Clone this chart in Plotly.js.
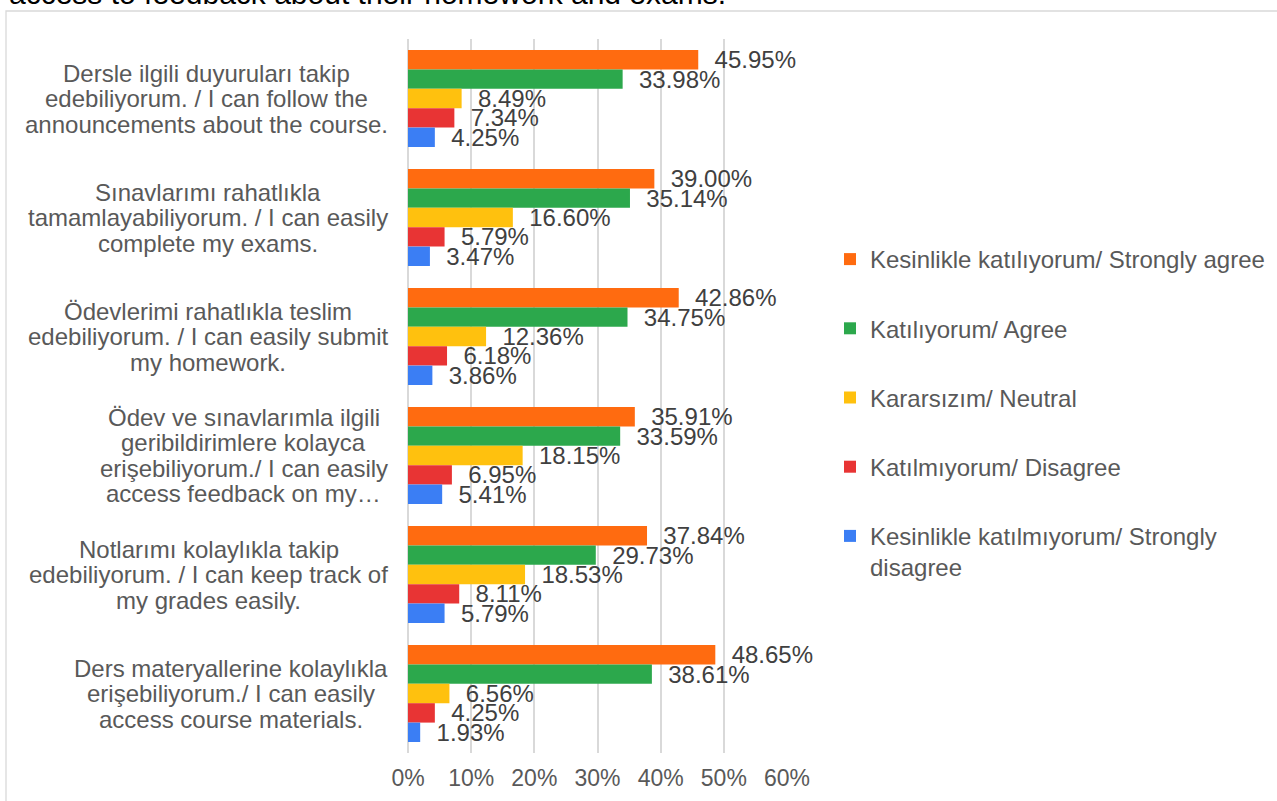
<!DOCTYPE html>
<html>
<head>
<meta charset="utf-8">
<script src="https://cdn.plot.ly/plotly-3.0.1.min.js"></script>
<style>
  html, body { margin: 0; padding: 0; background: #ffffff; }
  #chart { width: 1277px; height: 801px; }
</style>
</head>
<body>
<div id="chart"></div>
<script>
// ---- data ----
const categories = [
  "Dersle ilgili duyuruları takip<br>edebiliyorum. / I can follow the<br>announcements about the course.",
  "Sınavlarımı rahatlıkla<br>tamamlayabiliyorum. / I can easily<br>complete my exams.",
  "Ödevlerimi rahatlıkla teslim<br>edebiliyorum. / I can easily submit<br>my homework.",
  "Ödev ve sınavlarımla ilgili<br>geribildirimlere kolayca<br>erişebiliyorum./ I can easily<br>access feedback on my…",
  "Notlarımı kolaylıkla takip<br>edebiliyorum. / I can keep track of<br>my grades easily.",
  "Ders materyallerine kolaylıkla<br>erişebiliyorum./ I can easily<br>access course materials."
];
const seriesNames = [
  "Kesinlikle katılıyorum/ Strongly agree",
  "Katılıyorum/ Agree",
  "Kararsızım/ Neutral",
  "Katılmıyorum/ Disagree",
  "Kesinlikle katılmıyorum/ Strongly<br>disagree"
];
const stronglyAgree    = [45.95, 39.00, 42.86, 35.91, 37.84, 48.65];
const agree            = [33.98, 35.14, 34.75, 33.59, 29.73, 38.61];
const neutral          = [8.49, 16.60, 12.36, 18.15, 18.53, 6.56];
const disagree         = [7.34, 5.79, 6.18, 6.95, 8.11, 4.25];
const stronglyDisagree = [4.25, 3.47, 3.86, 5.41, 5.79, 1.93];
const tickValues = [0, 10, 20, 30, 40, 50, 60];
const tickLabels = ["0%", "10%", "20%", "30%", "40%", "50%", "60%"];
const topText = "access to feedback about their homework and exams.";

// ---- styles ----
const colors = ["#FF6B10", "#2CA84C", "#FFC10E", "#E83434", "#3B7EF4"];
const FONT = "Liberation Sans, Arial, sans-serif";
const W = 1277, H = 801;
const M = { l: 408, r: 490, t: 39, b: 48 };
const PW = W - M.l - M.r, PH = H - M.t - M.b;
const px2x = p => (p - M.l) / PW;
const px2y = p => (H - M.b - p) / PH;

const allSeries = [stronglyAgree, agree, neutral, disagree, stronglyDisagree];
const traces = allSeries.map((vals, i) => ({
  type: "bar",
  orientation: "h",
  name: seriesNames[i],
  legendgroup: "g" + i,
  y: categories,
  x: vals,
  marker: { color: colors[i] },
  texttemplate: "\u00a0\u00a0%{x:.2f}%",
  textposition: "outside",
  constraintext: "none",
  cliponaxis: false,
  textfont: { family: FONT, size: 24, color: "#404040" },
  hoverinfo: "skip"
}));

// category labels: centered lines, block right-aligned
const cv = document.createElement("canvas").getContext("2d");
cv.font = '24px "Liberation Sans"';
const LABEL_RIGHT = 388, LINE_STEP = 25.5;
const annotations = [];
categories.forEach(cat => {
  const lines = cat.split("<br>");
  const maxW = Math.max(...lines.map(s => cv.measureText(s).width));
  const cx = px2x(LABEL_RIGHT - maxW / 2);
  const n = lines.length;
  lines.forEach((ln, i) => {
    annotations.push({
      xref: "paper", yref: "y", x: cx, y: cat,
      xanchor: "center", yanchor: "middle",
      yshift: ((n - 1) / 2 - i) * LINE_STEP,
      text: ln, showarrow: false,
      font: { family: FONT, size: 24, color: "#595959" }
    });
  });
});
annotations.push({
  xref: "paper", yref: "paper", x: px2x(7), y: px2y(12.4),
  xanchor: "left", yanchor: "bottom", text: topText, showarrow: false,
  font: { family: FONT, size: 30, color: "#000000" }
});

const layout = {
  width: W, height: H,
  margin: { l: M.l, r: M.r, t: M.t, b: M.b, autoexpand: false },
  paper_bgcolor: "#ffffff", plot_bgcolor: "rgba(0,0,0,0)",
  font: { family: FONT, size: 24, color: "#595959" },
  barmode: "group", bargap: 0.185, bargroupgap: 0,
  showlegend: true,
  legend: {
    x: px2x(830), xanchor: "left",
    y: px2y(237), yanchor: "top",
    font: { family: FONT, size: 24, color: "#595959" },
    tracegroupgap: 35, valign: "top",
    bgcolor: "rgba(0,0,0,0)"
  },
  xaxis: {
    range: [0, 60], tickvals: tickValues, ticktext: tickLabels,
    showgrid: true, gridcolor: "#d9d9d9", gridwidth: 2,
    zeroline: true, zerolinecolor: "#d9d9d9", zerolinewidth: 2,
    showline: false, ticks: "", ticklabelstandoff: 9,
    tickfont: { family: FONT, size: 23, color: "#595959" },
    fixedrange: true
  },
  yaxis: {
    type: "category", autorange: "reversed",
    showticklabels: false, showgrid: false, zeroline: false, showline: false,
    ticks: "", fixedrange: true
  },
  shapes: [{
    type: "rect", xref: "paper", yref: "paper", layer: "below",
    x0: px2x(6), x1: px2x(1290), y0: px2y(815), y1: px2y(11),
    line: { color: "#d9d9d9", width: 1.3 }, fillcolor: "rgba(0,0,0,0)"
  }],
  annotations: annotations
};

Plotly.newPlot("chart", traces, layout, { displayModeBar: false, staticPlot: true });
</script>
</body>
</html>
